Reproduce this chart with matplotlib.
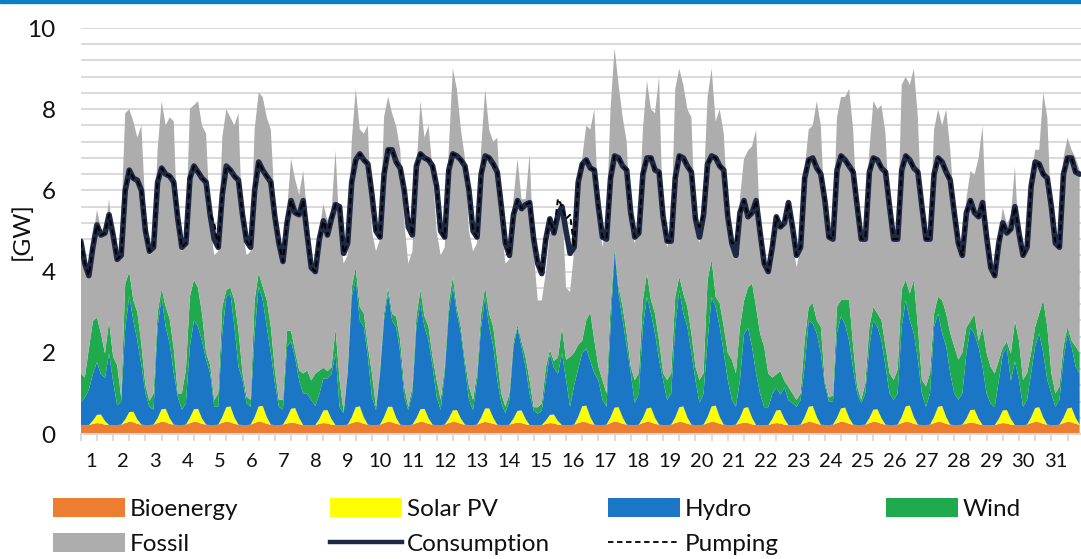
import numpy as np
import matplotlib.pyplot as plt
from matplotlib.patches import Patch, Rectangle
from matplotlib.lines import Line2D
from matplotlib.ticker import MultipleLocator

plt.rcParams['font.family'] = ['Lato', 'DejaVu Sans']

# --- data: one row per day (1..31), samples at hour 0, 3, 6, ..., 21 [GW] ---
bioenergy = [
    [0.21, 0.21, 0.22, 0.25, 0.27, 0.26, 0.23, 0.22],
    [0.22, 0.22, 0.23, 0.27, 0.30, 0.29, 0.25, 0.23],
    [0.22, 0.22, 0.23, 0.27, 0.30, 0.29, 0.25, 0.23],
    [0.22, 0.22, 0.23, 0.27, 0.30, 0.29, 0.25, 0.23],
    [0.22, 0.22, 0.23, 0.28, 0.30, 0.29, 0.25, 0.23],
    [0.22, 0.22, 0.23, 0.27, 0.31, 0.29, 0.25, 0.23],
    [0.22, 0.22, 0.23, 0.26, 0.28, 0.27, 0.24, 0.22],
    [0.21, 0.21, 0.22, 0.25, 0.27, 0.26, 0.23, 0.22],
    [0.22, 0.22, 0.23, 0.27, 0.30, 0.29, 0.25, 0.23],
    [0.22, 0.22, 0.23, 0.27, 0.30, 0.29, 0.25, 0.23],
    [0.22, 0.22, 0.23, 0.27, 0.30, 0.29, 0.25, 0.23],
    [0.22, 0.22, 0.23, 0.27, 0.30, 0.29, 0.25, 0.23],
    [0.22, 0.22, 0.23, 0.27, 0.30, 0.28, 0.25, 0.23],
    [0.22, 0.22, 0.23, 0.26, 0.28, 0.27, 0.24, 0.22],
    [0.21, 0.21, 0.22, 0.25, 0.27, 0.26, 0.23, 0.22],
    [0.22, 0.22, 0.23, 0.27, 0.30, 0.29, 0.25, 0.23],
    [0.22, 0.22, 0.23, 0.27, 0.31, 0.29, 0.25, 0.23],
    [0.22, 0.22, 0.23, 0.27, 0.30, 0.29, 0.25, 0.23],
    [0.22, 0.22, 0.23, 0.27, 0.30, 0.29, 0.25, 0.23],
    [0.22, 0.22, 0.23, 0.27, 0.30, 0.29, 0.25, 0.23],
    [0.22, 0.22, 0.23, 0.26, 0.28, 0.27, 0.24, 0.22],
    [0.21, 0.21, 0.22, 0.25, 0.27, 0.26, 0.23, 0.22],
    [0.22, 0.22, 0.23, 0.27, 0.30, 0.29, 0.25, 0.23],
    [0.22, 0.22, 0.23, 0.27, 0.30, 0.29, 0.25, 0.23],
    [0.22, 0.22, 0.23, 0.27, 0.30, 0.29, 0.25, 0.23],
    [0.22, 0.22, 0.23, 0.27, 0.30, 0.29, 0.25, 0.23],
    [0.22, 0.22, 0.23, 0.27, 0.30, 0.29, 0.25, 0.23],
    [0.22, 0.22, 0.23, 0.26, 0.28, 0.27, 0.24, 0.22],
    [0.21, 0.21, 0.22, 0.25, 0.27, 0.26, 0.23, 0.22],
    [0.22, 0.22, 0.23, 0.27, 0.30, 0.29, 0.25, 0.23],
    [0.22, 0.22, 0.23, 0.27, 0.30, 0.29, 0.25, 0.23],
]

solar_pv = [
    [0, 0, 0, 0.08, 0.20, 0.22, 0.09, 0],
    [0, 0, 0, 0.09, 0.24, 0.26, 0.11, 0],
    [0, 0, 0, 0.12, 0.31, 0.33, 0.14, 0],
    [0, 0, 0, 0.13, 0.31, 0.33, 0.13, 0],
    [0, 0, 0, 0.14, 0.36, 0.39, 0.16, 0],
    [0, 0, 0, 0.15, 0.37, 0.40, 0.17, 0],
    [0, 0, 0, 0.14, 0.34, 0.37, 0.16, 0],
    [0, 0, 0, 0.12, 0.31, 0.33, 0.14, 0],
    [0, 0, 0, 0.14, 0.36, 0.39, 0.16, 0],
    [0, 0, 0, 0.15, 0.37, 0.38, 0.15, 0],
    [0, 0, 0, 0.12, 0.31, 0.33, 0.14, 0],
    [0, 0, 0, 0.11, 0.28, 0.30, 0.13, 0],
    [0, 0, 0, 0.13, 0.33, 0.35, 0.15, 0],
    [0, 0, 0, 0.12, 0.29, 0.31, 0.13, 0],
    [0, 0, 0, 0.08, 0.20, 0.22, 0.09, 0],
    [0, 0, 0, 0.15, 0.38, 0.41, 0.17, 0],
    [0, 0, 0, 0.14, 0.34, 0.37, 0.16, 0],
    [0, 0, 0, 0.13, 0.33, 0.36, 0.15, 0],
    [0, 0, 0, 0.14, 0.36, 0.39, 0.16, 0],
    [0, 0, 0, 0.15, 0.38, 0.41, 0.17, 0],
    [0, 0, 0, 0.14, 0.36, 0.39, 0.16, 0],
    [0, 0, 0, 0.12, 0.31, 0.33, 0.14, 0],
    [0, 0, 0, 0.15, 0.37, 0.40, 0.17, 0],
    [0, 0, 0, 0.13, 0.33, 0.36, 0.15, 0],
    [0, 0, 0, 0.12, 0.30, 0.32, 0.14, 0],
    [0, 0, 0, 0.15, 0.38, 0.41, 0.17, 0],
    [0, 0, 0, 0.15, 0.37, 0.40, 0.17, 0],
    [0, 0, 0, 0.12, 0.31, 0.33, 0.14, 0],
    [0, 0, 0, 0.12, 0.31, 0.33, 0.14, 0],
    [0, 0, 0, 0.14, 0.34, 0.37, 0.16, 0],
    [0, 0, 0, 0.13, 0.33, 0.36, 0.15, 0],
]

hydro = [
    [0.58, 0.68, 0.87, 1.15, 1.30, 0.99, 1.06, 1.77],
    [1.08, 0.48, 0.57, 2.24, 2.86, 2.25, 1.94, 1.47],
    [0.78, 0.45, 0.37, 2.25, 2.77, 2.02, 1.84, 1.27],
    [0.70, 0.38, 0.53, 1.77, 2.19, 2.02, 1.91, 1.60],
    [1.28, 0.45, 0.44, 2.07, 2.72, 2.78, 2.23, 1.43],
    [1.11, 0.54, 0.44, 2.06, 2.96, 2.61, 2.22, 1.77],
    [1.03, 0.45, 0.37, 1.75, 1.66, 1.24, 0.92, 0.77],
    [0.78, 0.63, 0.47, 0.61, 0.79, 0.78, 1.11, 1.77],
    [0.45, 0.29, 1.27, 2.97, 3.14, 2.12, 2.23, 1.67],
    [0.70, 0.37, 1.27, 2.39, 2.80, 2.12, 2.23, 1.77],
    [0.70, 0.37, 0.77, 2.25, 2.61, 2.02, 1.91, 1.43],
    [0.70, 0.37, 1.27, 2.59, 3.05, 2.38, 2.10, 1.43],
    [0.62, 0.37, 1.10, 2.24, 2.75, 2.00, 1.76, 1.10],
    [0.54, 0.29, 0.61, 1.77, 2.05, 1.56, 1.28, 0.77],
    [0.37, 0.29, 0.36, 0.98, 1.50, 1.15, 1.16, 1.77],
    [1.11, 0.45, 0.97, 1.18, 1.32, 1.40, 1.38, 1.27],
    [1.11, 0.62, 0.44, 2.23, 3.86, 2.80, 2.39, 1.93],
    [1.28, 0.54, 0.77, 2.24, 2.75, 2.32, 2.08, 1.60],
    [1.11, 0.62, 0.77, 2.23, 2.89, 2.29, 2.23, 1.77],
    [1.11, 0.54, 0.77, 1.88, 2.70, 2.43, 2.22, 1.77],
    [1.11, 0.62, 0.44, 0.92, 1.82, 1.96, 1.75, 1.27],
    [0.78, 0.45, 0.44, 0.61, 0.56, 0.38, 0.78, 0.61],
    [0.54, 0.45, 0.61, 1.24, 2.13, 2.03, 2.06, 1.77],
    [0.98, 0.58, 0.57, 2.10, 2.27, 2.05, 1.90, 1.37],
    [0.78, 0.54, 0.77, 1.77, 2.20, 2.03, 1.91, 1.43],
    [0.78, 0.62, 0.77, 2.22, 2.62, 2.10, 2.06, 1.60],
    [0.78, 0.45, 0.77, 2.22, 2.30, 1.79, 1.74, 1.27],
    [0.78, 0.62, 0.77, 1.61, 2.03, 1.86, 1.77, 1.43],
    [0.78, 0.54, 0.44, 0.94, 1.39, 1.54, 0.94, 1.57],
    [1.11, 0.45, 0.61, 1.09, 1.52, 1.82, 1.59, 1.10],
    [0.78, 0.45, 0.61, 1.43, 1.85, 1.51, 1.26, 1.27],
]

wind = [
    [0.70, 0.50, 1.00, 1.30, 1.10, 1.00, 0.60, 0.80],
    [0.60, 1.00, 0.10, 1.10, 0.60, 0.50, 0.70, 0.50],
    [0.20, 0.15, 0.40, 0.35, 0.20, 0.50, 0.60, 0.60],
    [0.08, 0.40, 0.82, 1.22, 1.00, 0.96, 0.67, 0.17],
    [0.20, 0.17, 0.33, 0.65, 0.17, 0.14, 0.66, 0.90],
    [0.17, 0.16, 0.17, 0.82, 0.33, 0.33, 0.66, 0.64],
    [0.33, 0.17, 0.24, 0.40, 0.26, 0.17, 0.25, 0.50],
    [0.58, 0.48, 0.80, 0.58, 0.26, 0.18, 0.16, 0.60],
    [0.66, 0.04, 0.08, 0.22, 0.30, 0.33, 0.33, 0.26],
    [0.58, 0.08, 0.08, 0.17, 0.14, 0.17, 0.26, 0.30],
    [0.25, 0.08, 0.17, 0.26, 0.33, 0.26, 0.34, 0.24],
    [0.41, 0.25, 0.16, 0.25, 0.25, 0.16, 0.16, 0.17],
    [0.33, 0.25, 0.17, 0.33, 0.25, 0.33, 0.48, 0.50],
    [0.24, 0.16, 0.16, 0.14, 0.06, 0.14, 0.24, 0.33],
    [0.08, 0.16, 0.17, 0.33, 0.10, 0.17, 0.40, 0.64],
    [0.50, 1.23, 0.80, 0.60, 0.30, 0.70, 1.20, 0.80],
    [0.33, 0.49, 0.33, 0.49, 0.10, 0.17, 0.33, 0.32],
    [0.16, 0.57, 0.50, 0.66, 0.58, 0.33, 0.49, 0.47],
    [0.17, 0.49, 0.50, 0.74, 0.33, 0.49, 0.49, 0.48],
    [0.33, 0.57, 0.50, 1.50, 0.92, 0.25, 0.58, 0.64],
    [0.67, 0.99, 0.83, 1.31, 0.82, 0.99, 1.56, 1.63],
    [1.48, 1.49, 0.83, 0.41, 0.33, 0.58, 0.16, 0.33],
    [0.24, 0.17, 0.16, 0.64, 0.33, 0.50, 0.32, 0.64],
    [0.10, 0.10, 0.15, 0.63, 0.40, 0.60, 1.00, 0.56],
    [0.17, 0.08, 0.25, 0.48, 0.33, 0.33, 0.50, 0.50],
    [0.50, 0.49, 0.58, 0.91, 0.50, 0.66, 1.32, 0.81],
    [0.33, 0.50, 0.50, 0.33, 0.41, 0.82, 0.81, 0.98],
    [1.16, 0.99, 1.00, 0.64, 0.16, 0.49, 0.14, 0.98],
    [1.00, 0.90, 0.83, 0.50, 0.16, 0.14, 0.67, 1.00],
    [0.97, 0.66, 0.66, 0.50, 0.48, 0.49, 1.30, 1.31],
    [0.50, 0.33, 0.33, 0.33, 0.16, 0.14, 0.50, 0.50],
]

fossil = [
    [3.10, 2.80, 1.80, 2.00, 2.65, 2.60, 3.00, 3.00],
    [2.90, 2.60, 4.30, 4.20, 4.00, 4.40, 4.30, 5.40],
    [4.30, 3.58, 3.50, 4.01, 4.62, 4.46, 4.97, 5.60],
    [3.80, 3.50, 3.42, 4.62, 4.30, 4.60, 4.63, 5.40],
    [3.50, 3.56, 3.50, 4.17, 4.45, 4.20, 4.30, 5.34],
    [3.50, 3.48, 3.66, 4.20, 4.44, 4.67, 4.50, 4.86],
    [4.02, 3.76, 3.36, 2.94, 4.24, 4.23, 4.32, 5.00],
    [3.82, 2.77, 2.70, 3.42, 4.04, 3.72, 3.84, 4.40],
    [3.67, 3.65, 2.82, 3.60, 4.40, 4.37, 4.43, 5.44],
    [3.50, 3.83, 3.22, 4.83, 4.70, 4.93, 4.70, 4.70],
    [4.03, 3.53, 3.33, 3.60, 4.65, 4.40, 4.96, 4.60],
    [3.67, 3.56, 2.94, 3.78, 5.12, 5.37, 4.86, 4.97],
    [3.83, 3.66, 3.20, 4.03, 4.87, 4.53, 4.56, 5.47],
    [4.20, 3.53, 3.30, 3.50, 4.10, 3.50, 3.90, 5.57],
    [3.83, 2.63, 2.54, 2.34, 2.90, 3.07, 3.30, 3.16],
    [1.77, 1.60, 2.50, 4.10, 4.50, 4.80, 4.50, 5.70],
    [3.84, 3.27, 4.20, 4.87, 4.90, 4.97, 4.67, 4.72],
    [3.34, 3.37, 3.70, 4.20, 4.74, 4.70, 4.93, 6.50],
    [3.70, 3.27, 3.50, 5.12, 5.12, 5.14, 4.87, 5.32],
    [3.34, 3.37, 4.50, 4.50, 4.70, 4.32, 4.78, 4.76],
    [3.50, 2.97, 2.80, 3.16, 3.50, 3.37, 3.38, 4.37],
    [2.52, 2.14, 2.50, 3.09, 3.90, 3.62, 3.87, 4.63],
    [3.80, 3.26, 3.60, 4.20, 4.37, 4.38, 5.40, 4.96],
    [4.00, 3.90, 4.05, 4.67, 5.00, 5.00, 5.20, 5.34],
    [4.13, 3.86, 3.65, 4.36, 5.07, 5.03, 5.30, 5.24],
    [3.80, 3.47, 3.42, 5.05, 5.00, 5.14, 5.20, 5.16],
    [3.87, 3.63, 3.50, 4.53, 4.62, 4.30, 5.03, 4.52],
    [3.44, 2.97, 2.50, 3.16, 3.70, 3.43, 4.50, 4.96],
    [3.00, 2.54, 2.50, 3.07, 3.44, 2.90, 3.40, 3.80],
    [2.40, 2.97, 3.30, 4.30, 4.36, 4.03, 5.10, 5.16],
    [3.90, 3.80, 3.83, 4.64, 4.66, 4.70, 4.64, 4.50],
]

consumption = [
    [4.75, 4.20, 3.90, 4.60, 5.15, 4.90, 4.95, 5.40],
    [4.90, 4.30, 4.40, 6.00, 6.50, 6.30, 6.25, 6.00],
    [5.00, 4.50, 4.60, 6.20, 6.55, 6.40, 6.35, 6.20],
    [5.30, 4.60, 4.70, 6.30, 6.60, 6.45, 6.30, 6.20],
    [5.40, 4.80, 4.60, 5.90, 6.60, 6.50, 6.35, 6.25],
    [5.40, 4.75, 4.60, 6.00, 6.70, 6.50, 6.35, 6.20],
    [5.35, 4.70, 4.25, 5.20, 5.75, 5.45, 5.40, 5.75],
    [4.90, 4.10, 4.00, 4.80, 5.25, 4.90, 5.30, 5.65],
    [5.60, 4.45, 4.70, 6.20, 6.75, 6.90, 6.75, 6.65],
    [5.90, 5.00, 4.85, 6.40, 7.00, 7.00, 6.70, 6.55],
    [6.00, 5.10, 4.90, 6.60, 6.90, 6.80, 6.75, 6.60],
    [6.10, 5.00, 4.85, 6.50, 6.90, 6.85, 6.75, 6.60],
    [6.00, 5.00, 4.85, 6.40, 6.85, 6.80, 6.65, 6.45],
    [5.60, 4.70, 4.40, 5.40, 5.75, 5.55, 5.65, 5.70],
    [4.80, 4.20, 3.95, 4.80, 5.30, 4.95, 5.40, 5.60],
    [5.00, 4.45, 4.60, 6.20, 6.65, 6.75, 6.55, 6.50],
    [5.60, 4.85, 4.80, 6.30, 6.85, 6.80, 6.60, 6.50],
    [5.45, 4.85, 4.95, 6.40, 6.80, 6.80, 6.50, 6.45],
    [5.35, 4.75, 4.75, 6.30, 6.85, 6.80, 6.60, 6.45],
    [5.30, 4.85, 5.40, 6.65, 6.85, 6.80, 6.60, 6.50],
    [5.35, 4.70, 4.40, 5.45, 5.75, 5.35, 5.45, 5.75],
    [4.95, 4.20, 4.00, 4.60, 5.35, 5.10, 5.20, 5.70],
    [5.10, 4.40, 4.60, 6.30, 6.75, 6.80, 6.55, 6.40],
    [5.75, 4.85, 4.80, 6.50, 6.85, 6.75, 6.60, 6.45],
    [5.60, 4.80, 4.80, 6.45, 6.80, 6.75, 6.55, 6.45],
    [5.60, 4.80, 4.80, 6.50, 6.85, 6.75, 6.55, 6.45],
    [5.60, 4.80, 4.80, 6.40, 6.80, 6.70, 6.45, 6.25],
    [5.45, 4.70, 4.40, 5.45, 5.75, 5.45, 5.35, 5.70],
    [4.85, 4.10, 3.90, 4.70, 5.20, 4.95, 5.05, 5.60],
    [4.95, 4.40, 4.60, 6.10, 6.70, 6.65, 6.40, 6.30],
    [5.60, 4.70, 4.60, 6.40, 6.80, 6.80, 6.45, 6.40],
]

pumping = [
    [4.75, 4.20, 3.90, 4.60, 5.15, 4.90, 4.95, 5.40],
    [4.90, 4.30, 4.40, 6.00, 6.50, 6.30, 6.25, 6.00],
    [5.00, 4.50, 4.60, 6.20, 6.55, 6.40, 6.35, 6.20],
    [5.30, 4.60, 4.70, 6.30, 6.60, 6.45, 6.30, 6.20],
    [5.40, 5.20, 4.60, 5.90, 6.60, 6.50, 6.35, 6.25],
    [5.40, 4.75, 4.60, 6.00, 6.70, 6.50, 6.35, 6.20],
    [5.35, 4.70, 4.25, 5.20, 5.75, 5.45, 5.40, 5.75],
    [4.90, 4.10, 4.00, 4.80, 5.25, 4.90, 5.30, 5.65],
    [5.60, 4.45, 4.70, 6.20, 6.75, 6.90, 6.75, 6.65],
    [5.90, 5.00, 4.85, 6.40, 7.00, 7.00, 6.70, 6.55],
    [6.00, 5.45, 4.90, 6.60, 6.90, 6.80, 6.75, 6.60],
    [6.10, 5.00, 4.85, 6.50, 6.90, 6.85, 6.75, 6.60],
    [6.00, 5.00, 4.85, 6.40, 6.85, 6.80, 6.65, 6.45],
    [5.60, 4.70, 4.40, 5.40, 5.75, 5.55, 5.65, 5.70],
    [4.80, 4.20, 3.95, 4.80, 5.30, 4.95, 5.80, 5.60],
    [5.30, 5.40, 4.60, 6.20, 6.65, 6.75, 6.55, 6.50],
    [5.60, 4.85, 4.80, 6.30, 6.85, 6.80, 6.60, 6.50],
    [5.45, 4.85, 4.95, 6.40, 6.80, 6.80, 6.50, 6.45],
    [5.35, 4.75, 4.75, 6.30, 6.85, 6.80, 6.60, 6.45],
    [5.30, 5.10, 5.40, 6.65, 6.85, 6.80, 6.60, 6.50],
    [5.35, 4.70, 4.70, 5.45, 5.75, 5.35, 5.45, 5.75],
    [4.95, 4.20, 4.00, 4.60, 5.35, 5.10, 5.20, 5.70],
    [5.10, 4.40, 4.60, 6.30, 6.75, 6.80, 6.55, 6.40],
    [5.75, 4.85, 4.80, 6.50, 6.85, 6.75, 6.60, 6.45],
    [5.60, 4.80, 4.80, 6.45, 6.80, 6.75, 6.55, 6.45],
    [5.60, 4.80, 4.80, 6.50, 6.85, 6.75, 6.55, 6.45],
    [5.60, 4.80, 4.80, 6.40, 6.80, 6.70, 6.45, 6.25],
    [5.45, 4.70, 4.40, 5.45, 5.75, 5.45, 5.35, 5.70],
    [4.85, 4.10, 3.90, 4.70, 5.20, 4.95, 5.05, 5.60],
    [4.95, 4.40, 4.60, 6.10, 6.70, 6.65, 6.40, 6.30],
    [5.60, 4.70, 4.60, 6.40, 6.80, 6.80, 6.45, 6.40],
]

day_labels = [str(d) for d in range(1, 32)]
labels = ['Bioenergy', 'Solar PV', 'Hydro', 'Wind', 'Fossil']
colors = ['#ED7D31', '#FFFF00', '#1B76C5', '#1FAA4E', '#ADADAD']
c_cons = '#1E2946'

hours = np.arange(0, 744, 3)
flat = lambda rows: np.asarray(rows, dtype=float).ravel()

fig = plt.figure(figsize=(10.81, 5.59), dpi=100)
ax = fig.add_axes([0.0747, 0.2236, 0.9253, 0.7263])

ax.stackplot(hours, flat(bioenergy), flat(solar_pv), flat(hydro), flat(wind),
             flat(fossil), colors=colors, linewidth=0, zorder=2)
ax.plot(hours, flat(consumption), color=c_cons, lw=4.0, zorder=3,
        solid_joinstyle='round', solid_capstyle='round')
ax.plot(hours, flat(pumping), color='black', lw=1.4, ls=(0, (3, 2)), zorder=4)

ax.set_xlim(0, 742)
ax.set_ylim(0, 10)

# y axis: labels every 2, gridlines every 0.4
ax.set_yticks(range(0, 11, 2))
ax.yaxis.set_minor_locator(MultipleLocator(0.4))
ax.grid(axis='y', which='both', color='#D9D9D9', lw=1.4, zorder=0)
ax.set_axisbelow(True)
ax.tick_params(axis='y', which='both', length=0, pad=18, labelsize=17.5,
               labelcolor='#111111')

for s in ['top', 'right', 'left']:
    ax.spines[s].set_visible(False)
ax.spines['bottom'].set_color('#D9D9D9')
ax.spines['bottom'].set_linewidth(1.5)
ax.spines['bottom'].set_zorder(5)

# x axis: day labels, small ticks every 12 hours
ax.set_xticks(7.6 + 23.85 * np.arange(31), labels=day_labels)
ax.set_xticks(np.arange(0, 742, 12), minor=True)
ax.tick_params(axis='x', which='major', length=0, pad=14, labelsize=14.5,
               labelcolor='#111111')
ax.tick_params(axis='x', which='minor', length=5, width=1.3, color='#D9D9D9')

fig.text(22 / 1081, 1 - 231 / 559, '[GW]', rotation=90, ha='center',
         va='center', fontsize=17.5, color='#111111')

# legend, four columns placed like the original
h_bio = Patch(facecolor=colors[0], edgecolor='none')
h_sol = Patch(facecolor=colors[1], edgecolor='none')
h_hyd = Patch(facecolor=colors[2], edgecolor='none')
h_win = Patch(facecolor=colors[3], edgecolor='none')
h_fos = Patch(facecolor=colors[4], edgecolor='none')
h_con = Line2D([], [], color=c_cons, lw=3.2)
h_pum = Line2D([], [], color='black', lw=1.3, ls=(0, (3, 2)))

columns = [
    (53, [h_bio, h_fos], [labels[0], labels[4]]),
    (330, [h_sol, h_con], [labels[1], 'Consumption']),
    (608, [h_hyd, h_pum], [labels[2], 'Pumping']),
    (886, [h_win], [labels[3]]),
]
for x_px, hs, ls_ in columns:
    fig.legend(hs, ls_, loc='upper left',
               bbox_to_anchor=(x_px / 1081, 1 - 498 / 559),
               frameon=False, fontsize=17.5, borderpad=0, borderaxespad=0,
               handlelength=2.95, handleheight=0.85, handletextpad=0.22,
               labelspacing=0.52, labelcolor='#111111')

fig.add_artist(Rectangle((0, 1 - 3 / 559), 1, 3 / 559, transform=fig.transFigure,
                         color='#0A7FC6', zorder=10))

fig.savefig('out.png', dpi=100)
